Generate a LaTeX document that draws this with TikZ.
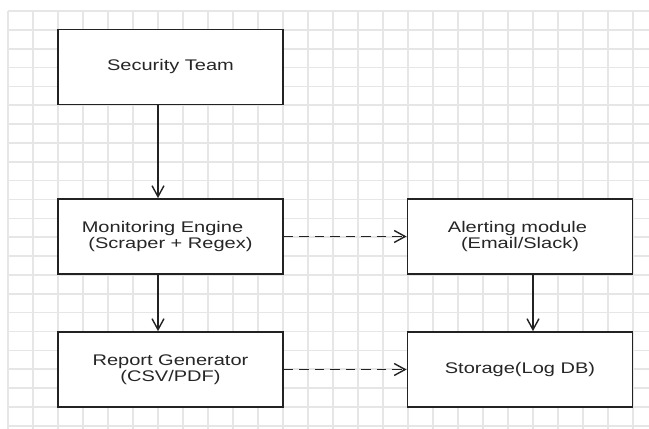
\documentclass[tikz,border=0pt]{standalone}
\usepackage{fontspec}
\setmainfont{Liberation Sans}[FakeStretch=1.3]
\usetikzlibrary{arrows.meta}
\definecolor{gridc}{HTML}{E6E6E6}
\definecolor{linec}{HTML}{222222}
\tikzset{
  box/.style={draw=linec, line width=1.8pt, fill=white, minimum width=225pt, minimum height=75pt,
    align=center, inner sep=0pt, font=\fontsize{15.4}{16.5}\selectfont, text=black!85},
  flow/.style={draw=linec, line width=1.4pt, -{Straight Barb[length=11pt,width=12pt,line width=1.4pt]}},
  dflow/.style={flow, dash pattern=on 9.5pt off 6pt},
}
\begin{document}
\begin{tikzpicture}[x=1pt,y=-1pt]
\useasboundingbox (0,0) rectangle (649,429);
\fill[white] (0,0) rectangle (649,429);
% grid
\foreach \k in {0,...,25} \draw[gridc, line width=1.6pt] ({8+25*\k},11) -- ({8+25*\k},429);
\foreach \k in {0,...,22} \draw[gridc, line width=1.6pt] (8,{11+18.85*\k}) -- (649,{11+18.85*\k});
% boxes
\node[box] (sec) at (170.5,67) {Security Team};
\node[box] (mon) at (170.5,236.5) {Monitoring Engine\hspace{16pt}\mbox{}\\(Scraper + Regex)};
\node[box] (alt) at (520,236.5) {Alerting module\hspace{5pt}\mbox{}\\(Email/Slack)};
\node[box] (rep) at (170.5,369.5) {Report Generator\\(CSV/PDF)};
\node[box] (sto) at (520,369.5) {Storage(Log DB)};
% connectors
\draw[flow] ([xshift=-12.5pt]sec.south) -- ([xshift=-12.5pt]mon.north);
\draw[flow] ([xshift=-12.5pt]mon.south) -- ([xshift=-12.5pt]rep.north);
\draw[flow] ([xshift=13pt]alt.south) -- ([xshift=13pt]sto.north);
\draw[dflow] (mon.east) -- (alt.west);
\draw[dflow] (rep.east) -- (sto.west);
\end{tikzpicture}
\end{document}
